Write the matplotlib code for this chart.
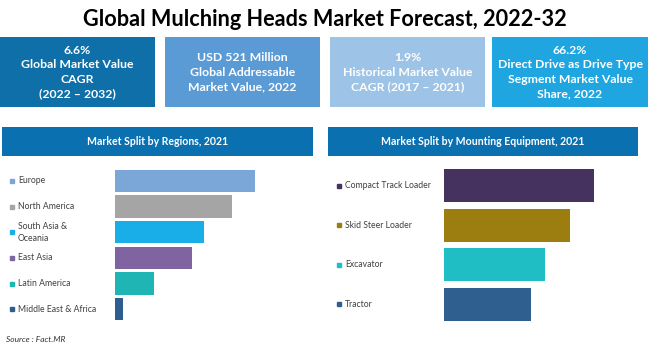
import matplotlib.pyplot as plt
from matplotlib.transforms import blended_transform_factory

plt.rcParams['font.family'] = ['Lato', 'DejaVu Sans']

W, H = 650, 352

title = 'Global Mulching Heads Market Forecast, 2022-32'

box_texts = ['6.6%\nGlobal Market Value\nCAGR\n(2022 – 2032)',
             'USD 521 Million\nGlobal Addressable\nMarket Value, 2022',
             '1.9%\nHistorical Market Value\nCAGR (2017 – 2021)',
             '66.2%\nDirect Drive as Drive Type\nSegment Market Value\nShare, 2022']
box_colors = ['#0f6fa8', '#5b9bd5', '#9dc3e6', '#1fa6e0']

regions = ['Europe', 'North America', 'South Asia &\nOceania', 'East Asia',
           'Latin America', 'Middle East & Africa']
region_values = [140, 117, 89, 77, 39, 8]
region_colors = ['#7ba7d8', '#a5a5a5', '#1aaee8', '#8064a2', '#20b5b5', '#2e5e8e']

equipment = ['Compact Track Loader', 'Skid Steer Loader', 'Excavator', 'Tractor']
equipment_values = [150, 126, 101, 87]
equipment_colors = ['#46325f', '#9c7d10', '#1fbec4', '#2e5f8f']


def px_axes(fig, x0, y0, x1, y1):
    # pixel box (top-left origin) -> figure axes
    return fig.add_axes([x0 / W, 1 - y1 / H, (x1 - x0) / W, (y1 - y0) / H])


fig = plt.figure(figsize=(W / 100, H / 100), dpi=100)
fig.patch.set_facecolor('white')

fig.text(0.5, 1 - 20 / H, title, ha='center', va='center',
         fontsize=15.6, fontweight='bold', color='black')

# KPI boxes
box_x = [(0, 155), (165, 320), (330, 485), (492, 648)]
for (x0, x1), txt, col in zip(box_x, box_texts, box_colors):
    ax = px_axes(fig, x0, 37, x1, 107)
    ax.set_facecolor(col)
    ax.set_xticks([])
    ax.set_yticks([])
    for s in ax.spines.values():
        s.set_visible(False)
    ax.text(0.5, 0.5, txt, ha='center', va='center', color='white',
            fontsize=8.8, fontweight='bold', linespacing=1.4,
            transform=ax.transAxes)

# section headers
headers = [('Market Split by Regions, 2021', 2, 313),
           ('Market Split by Mounting Equipment, 2021', 328, 638)]
for txt, x0, x1 in headers:
    ax = px_axes(fig, x0, 127, x1, 156)
    ax.set_facecolor('#0a70b0')
    ax.set_xticks([])
    ax.set_yticks([])
    for s in ax.spines.values():
        s.set_visible(False)
    ax.text(0.5, 0.5, txt, ha='center', va='center', color='white',
            fontsize=7.6, fontweight='bold', transform=ax.transAxes)


def bar_panel(x0, y0, x1, y1, cats, vals, cols, height, label_x):
    ax = px_axes(fig, x0, y0, x1, y1)
    n = len(cats)
    ax.barh(range(n), vals, color=cols, height=height)
    ax.set_xlim(0, x1 - x0)
    ax.set_ylim(n - 0.5, -0.5)
    ax.axis('off')
    tr = blended_transform_factory(fig.transFigure, ax.transData)
    for i, (c, col) in enumerate(zip(cats, cols)):
        ax.plot(label_x / W, i, marker='s', ms=3.5, color=col,
                transform=tr, clip_on=False)
        ax.text((label_x + 6) / W, i, c, transform=tr, ha='left',
                va='center', fontsize=6.2, color='#404040', linespacing=1.4)
    return ax


bar_panel(115, 168, 310, 322, regions, region_values, region_colors, 0.86, 12)
bar_panel(444, 166, 640, 324, equipment, equipment_values, equipment_colors, 0.84, 339)

fig.text(6 / W, 1 - 340 / H, 'Source : Fact.MR', ha='left', va='center',
         fontsize=6, style='italic', color='#333333')

fig.savefig('out.png', dpi=100, facecolor='white')
